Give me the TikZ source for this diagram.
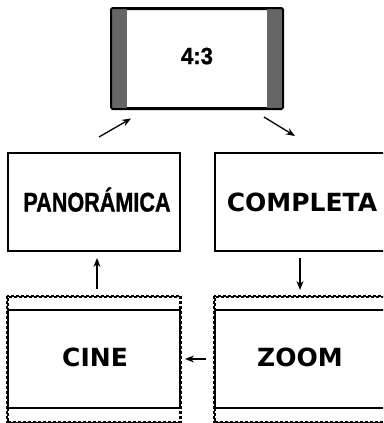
\documentclass[tikz,border=0pt]{standalone}
\usepackage{fontspec}
\usepackage{graphicx}
\usetikzlibrary{arrows.meta}
\newfontfamily\arialfont{Liberation Sans}[BoldFeatures={FakeBold=1.2}]
\newfontfamily\widefont{DejaVu Sans}
\newcommand{\narrowtext}[2]{\scalebox{#1}[1]{#2}}
\definecolor{bargray}{HTML}{666666}
\begin{document}
\begin{tikzpicture}[x=1pt,y=-1pt,
  solidbox/.style={draw=black,line width=2pt,fill=white,inner sep=0pt,minimum width=172pt,minimum height=98pt},
  dotbox/.style={draw=black,line width=2pt,dash pattern=on 2.6pt off 2.4pt,inner sep=0pt,minimum width=172pt,minimum height=125pt},
  narrowlabel/.style={font=\arialfont\bfseries\fontsize{27}{30}\selectfont},
  widelabel/.style={font=\widefont\bfseries\fontsize{25}{30}\selectfont},
  arr/.style={-{Stealth[length=9pt,width=7pt]},line width=1.3pt}]
\useasboundingbox (0,0) rectangle (383,423);
\clip (0,0) rectangle (383,423);
% top 4:3 box
\node[solidbox,minimum width=170pt,minimum height=99pt,rounded corners=1.5pt] (top) at (197,58.5) {};
\fill[bargray] ([xshift=1pt,yshift=-1pt]top.north west) rectangle ([xshift=16pt,yshift=1pt]top.south west);
\fill[bargray] ([xshift=-16pt,yshift=-1pt]top.north east) rectangle ([xshift=-1pt,yshift=1pt]top.south east);
\draw[line width=2pt,rounded corners=1.5pt] (top.north west) rectangle (top.south east);
\node[narrowlabel,font=\arialfont\bfseries\fontsize{23.5}{27}\selectfont] (t43) at (197,56) {\narrowtext{0.94}{4:3}};
% middle row
\node[solidbox] (pan) at (94,202) {};
\node[narrowlabel] (panl) at (97,199.7) {\narrowtext{0.8}{PANORÁMICA}};
\node[solidbox] (comp) at (301,202) {};
\node[widelabel] (compl) at (302,202) {COMPLETA};
% bottom row
\node[dotbox] (cineout) at (94,359.5) {};
\node[solidbox] (cine) at (94,359) {};
\node[dotbox] (zoomout) at (301,359.5) {};
\node[solidbox] (zoom) at (301,359) {};
\draw[line width=2pt,dash pattern=on 2.6pt off 2.4pt] (cineout.north west) rectangle (cineout.south east);
\draw[line width=2pt,dash pattern=on 2.6pt off 2.4pt] (zoomout.north west) rectangle (zoomout.south east);
\node[widelabel] (cinel) at (95,357) {CINE};
\node[widelabel] (zooml) at (300,357) {ZOOM};
% arrows
\coordinate (a1s) at (99,137);
\coordinate (a1e) at (131,118.5);
\coordinate (a2s) at (264,117);
\coordinate (a2e) at (295,136);
\draw[arr] (a1s) -- (a1e);
\draw[arr] (a2s) -- (a2e);
\draw[arr,shorten <=7pt,shorten >=6pt] ([xshift=3pt]cineout.north) -- ([xshift=3pt]pan.south);
\draw[arr,shorten <=6pt,shorten >=6pt] ([xshift=-1pt]comp.south) -- ([xshift=-1pt]zoomout.north);
\draw[arr,shorten <=8pt,shorten >=4pt] (zoom.west) -- (cine.east);
\end{tikzpicture}
\end{document}
